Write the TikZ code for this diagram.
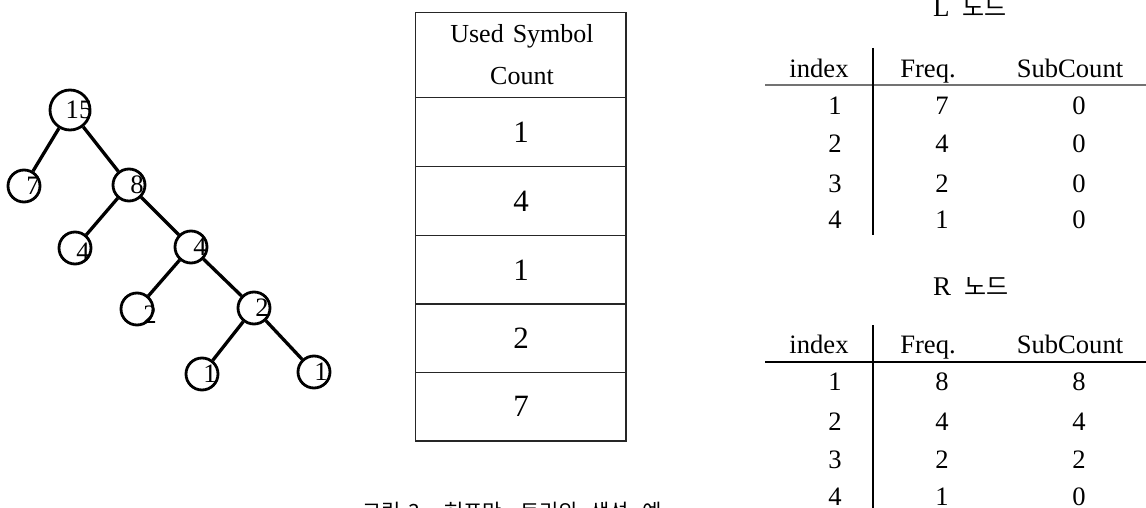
\documentclass[tikz,border=0pt]{standalone}
\usepackage{fontspec}
\setmainfont{Liberation Serif}
\newfontfamily\kr{Noto Sans CJK KR}
\begin{document}
\begin{tikzpicture}[x=1pt,y=-1pt,
  treenode/.style={circle, draw, line width=2.8pt, minimum size=32pt, inner sep=0pt},
  bignode/.style={treenode, minimum size=40pt},
  edge/.style={line width=3.3pt},
  tnum/.style={font=\fontsize{26.6}{28}\selectfont, inner sep=0pt},
  cellnum/.style={font=\fontsize{31}{33}\selectfont, inner sep=0pt},
  colhead/.style={font=\fontsize{26.6}{28}\selectfont, inner sep=0pt, anchor=base},
  tabnum/.style={font=\fontsize{26.6}{28}\selectfont, inner sep=0pt, anchor=base},
  tabtitle/.style={font=\fontsize{27}{29}\selectfont, inner sep=0pt, anchor=base west},
  rule/.style={line width=1.1pt},
  grid/.style={line width=1.3pt, draw=black!85}
]
\useasboundingbox (0,0) rectangle (1146,508);
\clip (0,0) rectangle (1146,508);

% ---------- Huffman tree ----------
\node[bignode,  label={[tnum, xshift=9pt]center:15}] (n15) at (70,110) {};
\node[treenode, label={[tnum, xshift=9pt]center:7}]  (n7)  at (24,186) {};
\node[treenode, label={[tnum, xshift=8pt]center:8}]  (n8)  at (129,185) {};
\node[treenode, label={[tnum, xshift=8pt, yshift=-4pt]center:4}] (n4a) at (75,248) {};
\node[treenode, label={[tnum, xshift=9pt]center:4}]  (n4b) at (191,247) {};
\node[treenode, label={[tnum, xshift=13pt, yshift=-6pt]center:2}] (n2a) at (137,309) {};
\node[treenode, label={[tnum, xshift=8pt]center:2}]  (n2b) at (254,308) {};
\node[treenode, label={[tnum, xshift=8pt]center:1}]  (n1a) at (202,374) {};
\node[treenode, label={[tnum, xshift=7pt]center:1}]  (n1b) at (314,372) {};

\draw[edge] (n15) -- (n7);
\draw[edge] (n15) -- (n8);
\draw[edge] (n8)  -- (n4a);
\draw[edge] (n8)  -- (n4b);
\draw[edge] (n4b) -- (n2a);
\draw[edge] (n4b) -- (n2b);
\draw[edge] (n2b) -- (n1a);
\draw[edge] (n2b) -- (n1b);

% ---------- Used Symbol Count column ----------
\draw[grid] (415.5,12.5) rectangle (626,441);
\foreach \yy in {97.5,166.5,235.5,304,372.5}
  \draw[grid] (415.5,\yy) -- (626,\yy);
\node[font=\fontsize{26}{26}\selectfont, inner sep=0pt, anchor=base]
  (usc1) at (522,43) {Used\hspace{9pt}Symbol};
\node[font=\fontsize{26}{26}\selectfont, inner sep=0pt, anchor=base]
  (usc2) at (522,85) {Count};
\node[cellnum] (c1) at (521,132) {1};
\node[cellnum] (c2) at (521,201) {4};
\node[cellnum] (c3) at (521,270) {1};
\node[cellnum] (c4) at (521,338.5) {2};
\node[cellnum] (c5) at (521,406.5) {7};

% ---------- L node table ----------
\node[tabtitle] (ltitle) at (933,17) {L\hspace{13pt}{\kr\fontsize{24}{26}\selectfont 노드}};
\draw[rule, draw=black!55, line width=1.8pt] (765,85) -- (1146,85);
\draw[rule] (873,48) -- (873,235);
\node[colhead] (lh1) at (819,78) {index};
\node[colhead] (lh2) at (928,78) {Freq.};
\node[colhead] (lh3) at (1070,78) {SubCount};
\foreach \i/\f/\s/\yy in {1/7/0/115, 2/4/0/153, 3/2/0/192, 4/1/0/228} {
  \node[tabnum] (li\i) at (835,\yy) {\i};
  \node[tabnum] (lf\i) at (942,\yy) {\f};
  \node[tabnum] (ls\i) at (1079,\yy) {\s};
}

% ---------- R node table ----------
\node[tabtitle] (rtitle) at (933,295) {R\hspace{13pt}{\kr\fontsize{24}{26}\selectfont 노드}};
\draw[rule] (765,362) -- (1146,362);
\draw[rule] (873,325) -- (873,508);
\node[colhead] (rh1) at (819,353) {index};
\node[colhead] (rh2) at (928,353) {Freq.};
\node[colhead] (rh3) at (1070,353) {SubCount};
\foreach \i/\f/\s/\yy in {1/8/8/390, 2/4/4/430, 3/2/2/468, 4/1/0/505} {
  \node[tabnum] (ri\i) at (835,\yy) {\i};
  \node[tabnum] (rf\i) at (942,\yy) {\f};
  \node[tabnum] (rs\i) at (1079,\yy) {\s};
}

% ---------- caption ----------
\node[font=\kr\fontsize{21}{23}\selectfont, inner sep=0pt, anchor=base west] (cap) at (362,519)
  {그림\hspace{8pt}3.\hspace{18pt}허프만\hspace{18pt}트리의\hspace{12pt}생성\hspace{14pt}예};
\end{tikzpicture}
\end{document}
